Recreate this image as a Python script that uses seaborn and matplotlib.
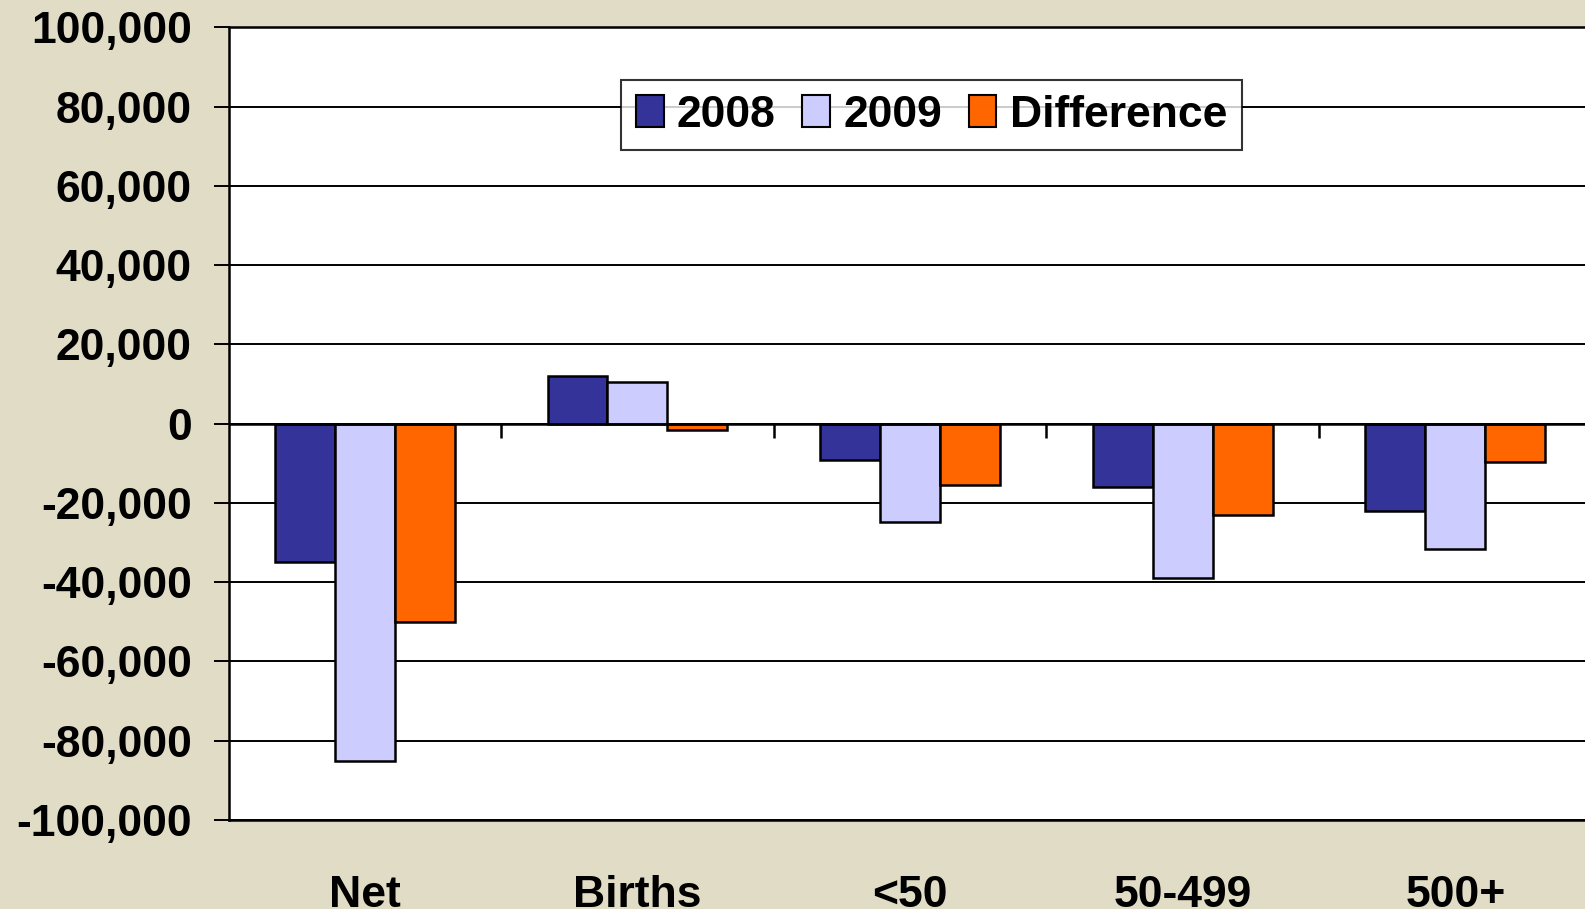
import matplotlib
matplotlib.use('Agg')
import matplotlib.pyplot as plt
import matplotlib.ticker as mticker
from matplotlib.patches import Patch
import pandas as pd
import seaborn as sns
import numpy as np

# Data
categories = ['Net', 'Births', '<50', '50-499', '500+']
series = ['2008', '2009', 'Difference']
vals_2008 = [-35000, 12000, -9200, -16000, -22000]
vals_2009 = [-85000, 10500, -24700, -39000, -31600]
vals_diff = [-50000, -1500, -15500, -23000, -9600]
colors = ['#333399', '#CCCCFF', '#FF6600']

df = pd.DataFrame({
    'category': categories * 3,
    'series': [s for s in series for _ in categories],
    'value': vals_2008 + vals_2009 + vals_diff,
})

sns.set_style('white')
plt.rcParams['font.family'] = ['Liberation Sans', 'DejaVu Sans']
plt.rcParams['font.weight'] = 'bold'
plt.rcParams['text.color'] = 'black'
plt.rcParams['xtick.color'] = 'black'
plt.rcParams['ytick.color'] = 'black'
plt.rcParams['axes.labelcolor'] = 'black'

bg = '#E0DCC6'
fig = plt.figure(figsize=(15.85, 9.09), dpi=100, facecolor=bg)
ax = fig.add_axes([0.1442, 0.0979, 0.8600, 0.8721])
ax.set_facecolor('white')

sns.barplot(data=df, x='category', y='value', hue='series', order=categories,
            hue_order=series, palette=colors, width=0.66, edgecolor='black',
            linewidth=1.8, saturation=1, ax=ax, legend=False, zorder=3)

ax.set_ylim(-100000, 100000)
ax.set_xlim(-0.5, len(categories) - 0.5)
ax.yaxis.set_major_locator(mticker.MultipleLocator(20000))
ax.yaxis.set_major_formatter(mticker.FuncFormatter(lambda v, p: f'{v:,.0f}'))
ax.grid(axis='y', color='black', linewidth=1.4, zorder=0)
ax.set_axisbelow(True)

# zero line with category separators
ax.axhline(0, color='black', linewidth=1.8, zorder=4)
seps = np.arange(len(categories) - 1) + 0.5
ax.vlines(seps, 0, -3700, color='black', linewidth=1.8, zorder=4)

for s in ['left', 'top', 'bottom']:
    ax.spines[s].set_visible(True)
    ax.spines[s].set_color('black')
    ax.spines[s].set_linewidth(1.8)
ax.spines['right'].set_visible(False)

ax.tick_params(axis='y', left=True, length=10.5, width=1.4, pad=16,
               labelsize=32, color='black', labelcolor='black')
ax.tick_params(axis='x', bottom=False, pad=36, labelsize=32, labelcolor='black')
for lab in ax.get_xticklabels() + ax.get_yticklabels():
    lab.set_fontweight('bold')
ax.set_xlabel('')
ax.set_ylabel('')

handles = [Patch(facecolor=c, edgecolor='black', linewidth=1.5) for c in colors]
leg = ax.legend(handles, series, loc='upper left', ncol=3,
                bbox_to_anchor=(0.392, 0.912), bbox_transform=fig.transFigure,
                prop={'size': 32, 'weight': 'bold'}, frameon=True, fancybox=False,
                handlelength=0.62, handleheight=0.72, handletextpad=0.3,
                columnspacing=0.6, borderpad=0.33, borderaxespad=0)
leg.get_frame().set_edgecolor('black')
leg.get_frame().set_linewidth(1.5)
leg.set_zorder(6)
for t in leg.get_texts():
    t.set_color('black')

fig.savefig('out.png', dpi=100, facecolor=bg)
